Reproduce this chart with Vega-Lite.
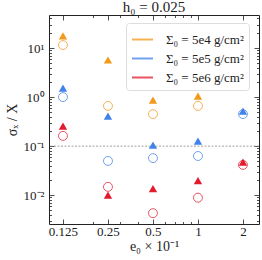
{
  "$schema": "https://vega.github.io/schema/vega-lite/v6.json",
  "width": 210,
  "height": 209,
  "autosize": {"type": "none"},
  "padding": {"left": 49, "top": 15, "right": 3, "bottom": 36},
  "background": "white",
  "config": {
    "view": {"stroke": "#222", "strokeWidth": 1},
    "font": "Liberation Serif",
    "axis": {"labelFont": "Liberation Serif", "titleFont": "Liberation Serif", "labelFontSize": 13, "titleFontSize": 14, "titleFontWeight": "normal", "labelColor": "#222", "titleColor": "#222", "domain": false, "grid": false, "tickColor": "#222", "tickWidth": 0.8}
  },
  "title": {"text": "h₀ = 0.025", "font": "Liberation Serif", "fontSize": 15, "fontWeight": "normal", "color": "#222", "offset": 0},
  "datasets": {
    "pts": [
      {"e": 0.125, "v": 17.6, "sigma": "Σ₀ = 5e4 g/cm²", "kind": "tri"},
      {"e": 0.125, "v": 11.5, "sigma": "Σ₀ = 5e4 g/cm²", "kind": "circ"},
      {"e": 0.25, "v": 5.7, "sigma": "Σ₀ = 5e4 g/cm²", "kind": "tri"},
      {"e": 0.25, "v": 0.66, "sigma": "Σ₀ = 5e4 g/cm²", "kind": "circ"},
      {"e": 0.5, "v": 0.87, "sigma": "Σ₀ = 5e4 g/cm²", "kind": "tri"},
      {"e": 0.5, "v": 0.45, "sigma": "Σ₀ = 5e4 g/cm²", "kind": "circ"},
      {"e": 1, "v": 1.05, "sigma": "Σ₀ = 5e4 g/cm²", "kind": "tri"},
      {"e": 1, "v": 0.66, "sigma": "Σ₀ = 5e4 g/cm²", "kind": "circ"},
      {"e": 0.125, "v": 1.53, "sigma": "Σ₀ = 5e5 g/cm²", "kind": "tri"},
      {"e": 0.125, "v": 1.0, "sigma": "Σ₀ = 5e5 g/cm²", "kind": "circ"},
      {"e": 0.25, "v": 0.41, "sigma": "Σ₀ = 5e5 g/cm²", "kind": "tri"},
      {"e": 0.25, "v": 0.05, "sigma": "Σ₀ = 5e5 g/cm²", "kind": "circ"},
      {"e": 0.5, "v": 0.105, "sigma": "Σ₀ = 5e5 g/cm²", "kind": "tri"},
      {"e": 0.5, "v": 0.057, "sigma": "Σ₀ = 5e5 g/cm²", "kind": "circ"},
      {"e": 1, "v": 0.126, "sigma": "Σ₀ = 5e5 g/cm²", "kind": "tri"},
      {"e": 1, "v": 0.063, "sigma": "Σ₀ = 5e5 g/cm²", "kind": "circ"},
      {"e": 2, "v": 0.52, "sigma": "Σ₀ = 5e5 g/cm²", "kind": "tri"},
      {"e": 2, "v": 0.45, "sigma": "Σ₀ = 5e5 g/cm²", "kind": "circ"},
      {"e": 0.125, "v": 0.256, "sigma": "Σ₀ = 5e6 g/cm²", "kind": "tri"},
      {"e": 0.125, "v": 0.162, "sigma": "Σ₀ = 5e6 g/cm²", "kind": "circ"},
      {"e": 0.25, "v": 0.01, "sigma": "Σ₀ = 5e6 g/cm²", "kind": "tri"},
      {"e": 0.25, "v": 0.0148, "sigma": "Σ₀ = 5e6 g/cm²", "kind": "circ"},
      {"e": 0.5, "v": 0.0136, "sigma": "Σ₀ = 5e6 g/cm²", "kind": "tri"},
      {"e": 0.5, "v": 0.0043, "sigma": "Σ₀ = 5e6 g/cm²", "kind": "circ"},
      {"e": 1, "v": 0.0199, "sigma": "Σ₀ = 5e6 g/cm²", "kind": "tri"},
      {"e": 1, "v": 0.0089, "sigma": "Σ₀ = 5e6 g/cm²", "kind": "circ"},
      {"e": 2, "v": 0.047, "sigma": "Σ₀ = 5e6 g/cm²", "kind": "tri"},
      {"e": 2, "v": 0.0415, "sigma": "Σ₀ = 5e6 g/cm²", "kind": "circ"}
    ],
    "ref": [{"v": 0.1}]
  },
  "layer": [
    {
      "data": {"name": "ref"},
      "mark": {"type": "rule", "color": "#888", "strokeDash": [2, 1.5], "strokeWidth": 0.8},
      "encoding": {
        "y": {"field": "v", "type": "quantitative", "axis": null}
      }
    },
    {
      "data": {"name": "pts"},
      "transform": [{"filter": "datum.kind == 'circ'"}],
      "mark": {"type": "point", "shape": "circle", "filled": false, "size": 80, "strokeWidth": 1, "opacity": 0.75},
      "encoding": {
        "x": {"field": "e", "type": "quantitative", "axis": null},
        "y": {"field": "v", "type": "quantitative", "axis": null},
        "color": {"field": "sigma", "type": "nominal"}
      }
    },
    {
      "data": {"name": "pts"},
      "transform": [{"filter": "datum.kind == 'tri'"}],
      "mark": {"type": "point", "shape": "triangle-up", "filled": true, "size": 70, "opacity": 1},
      "encoding": {
        "x": {"field": "e", "type": "quantitative",
          "scale": {"type": "log", "domain": [0.1008, 2.56], "nice": false},
          "axis": {"orient": "bottom", "values": [0.125, 0.2, 0.25, 0.3, 0.4, 0.5, 0.6, 0.7, 0.8, 0.9, 1, 2],
            "labelExpr": "indexof([0.125,0.25,0.5,1,2], datum.value) >= 0 ? datum.label : ''",
            "tickSize": {"condition": {"test": "indexof([0.125,0.25,0.5,1,2], datum.value) >= 0", "value": -5}, "value": -2.5},
            "labelPadding": 6, "labelFlush": false,
            "title": "e₀ × 10⁻¹", "titlePadding": 1}
        },
        "y": {"field": "v", "type": "quantitative",
          "scale": {"type": "log", "domain": [0.00259, 47.1], "nice": false},
          "axis": {"orient": "left", "values": [0.003,0.004,0.005,0.006,0.007,0.008,0.009,0.01,0.02,0.03,0.04,0.05,0.06,0.07,0.08,0.09,0.1,0.2,0.3,0.4,0.5,0.6,0.7,0.8,0.9,1,2,3,4,5,6,7,8,9,10,20,30,40],
            "labelExpr": "datum.value == 10 ? '10¹' : datum.value == 1 ? '10⁰' : datum.value == 0.1 ? '10⁻¹' : datum.value == 0.01 ? '10⁻²' : ''",
            "tickSize": {"condition": {"test": "indexof([0.01,0.1,1,10], datum.value) >= 0", "value": -5}, "value": -2.5},
            "labelPadding": 10, "labelFlush": false,
            "title": "σₓ / X", "titlePadding": 4}
        },
        "color": {"field": "sigma", "type": "nominal",
          "scale": {"domain": ["Σ₀ = 5e4 g/cm²", "Σ₀ = 5e5 g/cm²", "Σ₀ = 5e6 g/cm²"], "range": ["#f39a1b", "#3f82ea", "#e3192c"]},
          "legend": {"orient": "none", "legendX": 77, "legendY": 8, "title": null, "symbolType": "stroke", "symbolSize": 441, "symbolStrokeWidth": 2, "symbolOpacity": 0.5, "labelFont": "Liberation Serif", "labelFontSize": 13, "labelColor": "#222", "labelOffset": 12, "rowPadding": 0, "padding": 5, "strokeColor": "#ddd", "fillColor": "white", "cornerRadius": 3}
        }
      }
    },
    {
      "data": {"name": "pts"},
      "mark": {"type": "point", "opacity": 0},
      "encoding": {
        "x": {"field": "e", "type": "quantitative",
          "axis": {"orient": "top", "values": [0.125, 0.2, 0.25, 0.3, 0.4, 0.5, 0.6, 0.7, 0.8, 0.9, 1, 2], "labels": false, "title": null,
            "tickSize": {"condition": {"test": "indexof([0.125,0.25,0.5,1,2], datum.value) >= 0", "value": -5}, "value": -2.5}}
        },
        "y": {"field": "v", "type": "quantitative",
          "axis": {"orient": "right", "values": [0.003,0.004,0.005,0.006,0.007,0.008,0.009,0.01,0.02,0.03,0.04,0.05,0.06,0.07,0.08,0.09,0.1,0.2,0.3,0.4,0.5,0.6,0.7,0.8,0.9,1,2,3,4,5,6,7,8,9,10,20,30,40], "labels": false, "title": null,
            "tickSize": {"condition": {"test": "indexof([0.01,0.1,1,10], datum.value) >= 0", "value": -5}, "value": -2.5}}
        }
      }
    }
  ],
  "resolve": {"axis": {"x": "independent", "y": "independent"}}
}
